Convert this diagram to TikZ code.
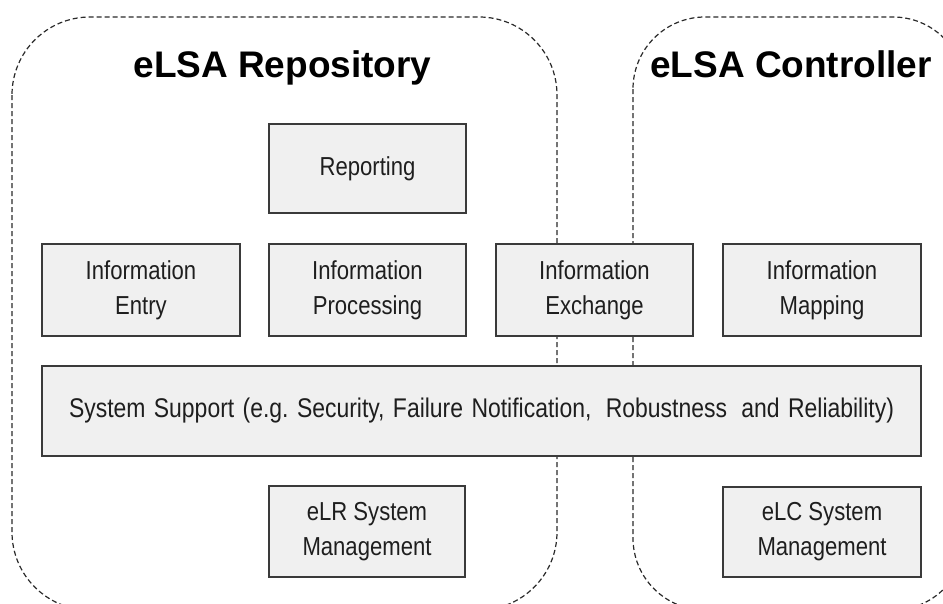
\documentclass[tikz,border=0pt]{standalone}
\usepackage{fontspec}
\setmainfont{Liberation Sans}
\newfontfamily\boxfont[FakeStretch=0.85]{Liberation Sans}
\definecolor{boxfill}{HTML}{F0F0F0}
\definecolor{boxline}{HTML}{3A3A3A}
\definecolor{dashline}{HTML}{2A2A2A}
\definecolor{txt}{HTML}{1E1E1E}
\tikzset{
  compbox/.style={draw=boxline, fill=boxfill, line width=1.2pt, inner sep=0pt,
    align=center, text=txt, font=\boxfont\fontsize{26}{35}\selectfont},
  region/.style={draw=dashline, line width=1.2pt, dash pattern=on 5pt off 3pt},
  regiontitle/.style={font=\bfseries\fontsize{37}{40}\selectfont, anchor=base, inner sep=0pt}
}
\begin{document}
\frenchspacing
\begin{tikzpicture}[x=1pt,y=-1pt]
\useasboundingbox (0,0) rectangle (943,603);
\clip (0,0) rectangle (943,603);
\fill[white] (0,0) rectangle (943,603);
% dashed containers
\draw[region, rounded corners=78pt] (12,17) rectangle (557,610);
\draw[region, rounded corners=72pt] (633,17) rectangle (965,610);
% titles
\node[regiontitle] (trep) at (282.5,77) {eLSA Repository};
\node[regiontitle] (tctl) at (791,77) {eLSA Controller};
% boxes
\node[compbox, minimum width=197pt, minimum height=89pt] (rep) at (367.5,168.5) {Reporting};
\node[compbox, minimum width=198pt, minimum height=92pt] (entry) at (141,290) {Information\\Entry};
\node[compbox, minimum width=197pt, minimum height=92pt] (proc) at (367.5,290) {Information\\Processing};
\node[compbox, minimum width=197pt, minimum height=92pt] (exch) at (594.5,290) {Information\\Exchange};
\node[compbox, minimum width=198pt, minimum height=92pt] (map) at (822,290) {Information\\Mapping};
\node[compbox, minimum width=879pt, minimum height=90pt, font=\boxfont\fontsize{27}{35}\selectfont] (sys) at (481.5,411) {\makebox[825pt][s]{System Support (e.g. Security, Failure Notification,\hspace{6pt} Robustness\hspace{6pt} and Reliability)}};
\node[compbox, minimum width=196pt, minimum height=91pt] (elr) at (367,531.5) {eLR System\\Management};
\node[compbox, minimum width=198pt, minimum height=90pt] (elc) at (822,532) {eLC System\\Management};
\end{tikzpicture}
\end{document}
